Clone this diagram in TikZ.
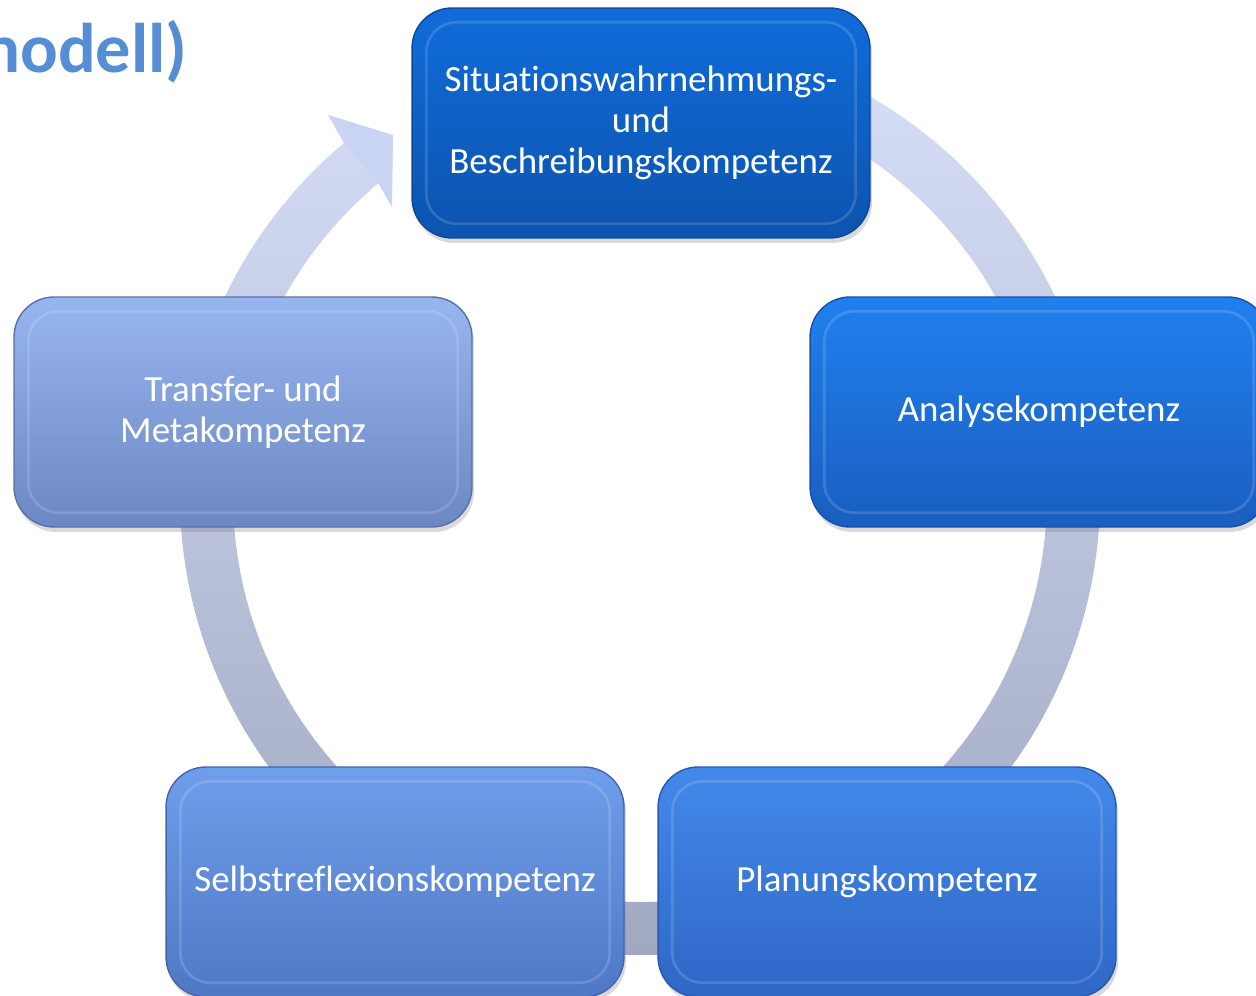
\documentclass[tikz,border=0pt]{standalone}
\usepackage{fontspec}
\setsansfont[Ligatures=NoCommon]{Carlito}
\usetikzlibrary{shadows}

\definecolor{titleblue}{HTML}{558ED5}
\definecolor{ringtop}{HTML}{D6DEF8}
\definecolor{ringbot}{HTML}{9CA4BE}
\definecolor{arrowhd}{HTML}{C9D4F2}

\tikzset{
  kompbox/.style={rounded corners=0.8cm, minimum width=9.16cm, minimum height=4.6cm,
    text=white, align=center, line width=0.8pt,
    font=\sffamily\fontsize{21}{23.3}\selectfont,
    drop shadow={shadow xshift=0.4mm, shadow yshift=-1mm, opacity=0.3}},
  glanz/.style={white, opacity=0.15, line width=1.5pt, rounded corners=0.6cm}
}

\begin{document}
\begin{tikzpicture}[x=0.02cm, y=0.02cm]
        \useasboundingbox (0,0) rectangle (1256,995);

        % title, cut at the left edge
        \node[anchor=base east, inner sep=0pt, text=titleblue,
              font=\sffamily\bfseries\fontsize{40}{48}\selectfont] (titel) at (188,922) {modell)};

        % circular arrow behind the boxes
        \begin{scope}[shift={(640,500)}]
          \shade[top color=ringtop, bottom color=ringbot]
            (70:460) arc[start angle=70, end angle=-230, radius=460]
            -- (-230:407) arc[start angle=-230, end angle=70, radius=407] -- cycle;
        \end{scope}
        \fill[arrowhd] (344,852) -- (328,880) -- (393,860) -- (392,788) -- (378,812) -- cycle;

        % the five boxes
        \node[kompbox, top color={rgb,255:red,16;green,108;blue,218}, bottom color={rgb,255:red,12;green,84;blue,174},
              draw={rgb,255:red,10;green,72;blue,152}] (sit) at (641,872)
              {Situationswahrnehmungs-\\und\\Beschreibungskompetenz};
        \node[kompbox, top color={rgb,255:red,32;green,128;blue,238}, bottom color={rgb,255:red,26;green,94;blue,192},
              draw={rgb,255:red,22;green,80;blue,170}] (ana) at (1039,583) {Analysekompetenz};
        \node[kompbox, top color={rgb,255:red,67;green,137;blue,234}, bottom color={rgb,255:red,47;green,103;blue,198},
              draw={rgb,255:red,40;green,88;blue,176}] (pla) at (887,880-767) {Planungskompetenz};
        \node[kompbox, top color={rgb,255:red,111;green,158;blue,236}, bottom color={rgb,255:red,79;green,120;blue,196},
              draw={rgb,255:red,66;green,100;blue,170}] (sel) at (395,880-767) {Selbstreflexionskompetenz};
        \node[kompbox, top color={rgb,255:red,151;green,181;blue,239}, bottom color={rgb,255:red,108;green,136;blue,194},
              draw={rgb,255:red,90;green,112;blue,165}] (tra) at (243,583) {Transfer- und\\Metakompetenz};

        % inner highlight of the boxes
        \draw[glanz] ([shift={(0.3cm,-0.3cm)}]sit.north west) rectangle ([shift={(-0.3cm,0.3cm)}]sit.south east);
        \draw[glanz] ([shift={(0.3cm,-0.3cm)}]ana.north west) rectangle ([shift={(-0.3cm,0.3cm)}]ana.south east);
        \draw[glanz] ([shift={(0.3cm,-0.3cm)}]pla.north west) rectangle ([shift={(-0.3cm,0.3cm)}]pla.south east);
        \draw[glanz] ([shift={(0.3cm,-0.3cm)}]sel.north west) rectangle ([shift={(-0.3cm,0.3cm)}]sel.south east);
        \draw[glanz] ([shift={(0.3cm,-0.3cm)}]tra.north west) rectangle ([shift={(-0.3cm,0.3cm)}]tra.south east);

      \end{tikzpicture}
\end{document}
